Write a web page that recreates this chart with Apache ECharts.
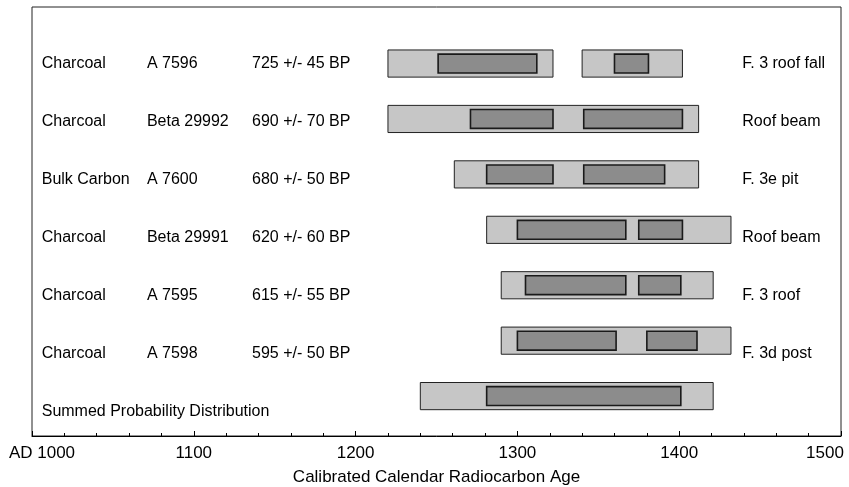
<!DOCTYPE html>
<html>
<head>
<meta charset="utf-8">
<script src="https://cdn.jsdelivr.net/npm/echarts@6/dist/echarts.min.js"></script>
<style>
html,body{margin:0;padding:0;background:#fff;}
#chart{width:849px;height:487px;}
</style>
</head>
<body>
<div id="chart"></div>
<script>
// ---- data ----
const materials = ['Charcoal','Charcoal','Bulk Carbon','Charcoal','Charcoal','Charcoal','Summed Probability Distribution'];
const labIds = ['A 7596','Beta 29992','A 7600','Beta 29991','A 7595','A 7598',''];
const ages = ['725 +/- 45 BP','690 +/- 70 BP','680 +/- 50 BP','620 +/- 60 BP','615 +/- 55 BP','595 +/- 50 BP',''];
const contexts = ['F. 3 roof fall','Roof beam','F. 3e pit','Roof beam','F. 3 roof','F. 3d post',''];
// [row, start, end] of 2-sigma ranges (light) and 1-sigma ranges (dark)
const outerRanges = [
  [0,1220,1322],[0,1340,1402],
  [1,1220,1412],
  [2,1261,1412],
  [3,1281,1432],
  [4,1290,1421],
  [5,1290,1432],
  [6,1240,1421]
];
const innerRanges = [
  [0,1251,1312],[0,1360,1381],
  [1,1271,1322],[1,1341,1402],
  [2,1281,1322],[2,1341,1391],
  [3,1300,1367],[3,1375,1402],
  [4,1305,1367],[4,1375,1401],
  [5,1300,1361],[5,1380,1411],
  [6,1281,1401]
];
const xTicks = {min:1000, max:1500, interval:100};

// ---- layout constants (not data) ----
const FONT = '"Liberation Sans", Arial, sans-serif';
const colYears = [1006, 1071, 1136, 1439]; // text column anchors on the x scale

const chart = echarts.init(document.getElementById('chart'));

function rangeRender(frac, fill, stroke, lw) {
  return function (params, api) {
    const row = api.value(0);
    const s = api.coord([api.value(1), row]);
    const e = api.coord([api.value(2), row]);
    const h = api.size([0, 1])[1] * frac;
    return {
      type: 'rect',
      shape: {x: s[0], y: s[1] - h / 2, width: e[0] - s[0], height: h},
      style: {fill: fill, stroke: stroke, lineWidth: lw}
    };
  };
}

const rows = materials.map((m, i) => [i]);

chart.setOption({
  animation: false,
  backgroundColor: '#fff',
  grid: {left: 32, right: 8, top: 7, bottom: 51, show: true, borderColor: '#222', borderWidth: 1,
         backgroundColor: 'transparent', containLabel: false, outerBoundsMode: 'none'},
  xAxis: {
    type: 'value', min: xTicks.min, max: xTicks.max, interval: xTicks.interval,
    name: 'Calibrated Calendar Radiocarbon Age', nameLocation: 'middle', nameGap: 33,
    nameTextStyle: {fontFamily: FONT, fontSize: 17, color: '#000'},
    axisLine: {show: true, onZero: false, lineStyle: {color: '#000', width: 1}},
    axisTick: {show: true, inside: true, length: 5, lineStyle: {color: '#000'}},
    minorTick: {show: true, splitNumber: 5, length: 3, lineStyle: {color: '#000'}},
    splitLine: {show: false},
    axisLabel: {
      fontFamily: FONT, fontSize: 17, color: '#000', margin: 9,
      formatter: function (v) {
        if (v === xTicks.min) return '{first|AD ' + v + '}';
        if (v === xTicks.max) return '{last|' + v + '}';
        return String(v);
      },
      rich: {
        first: {fontFamily: FONT, fontSize: 17, color: '#000', padding: [0, 0, 0, 20]},
        last: {fontFamily: FONT, fontSize: 17, color: '#000', padding: [0, 32, 0, 0]}
      }
    }
  },
  yAxis: [
    {type: 'value', inverse: true, min: -1.02, max: 6.72, show: false, splitLine: {show: false}, axisLine: {onZero: false}},
    {type: 'value', inverse: true, min: -0.983, max: 6.413, show: false, splitLine: {show: false}, axisLine: {onZero: false}}
  ],
  series: [
    {
      type: 'custom', name: 'outer', xAxisIndex: 0, yAxisIndex: 0,
      data: outerRanges, encode: {x: [1, 2], y: 0},
      renderItem: rangeRender(0.49, '#c6c6c6', '#222', 1)
    },
    {
      type: 'custom', name: 'inner', xAxisIndex: 0, yAxisIndex: 0,
      data: innerRanges, encode: {x: [1, 2], y: 0},
      renderItem: rangeRender(0.34, '#8c8c8c', '#1a1a1a', 1.6)
    },
    {
      type: 'custom', name: 'text', xAxisIndex: 0, yAxisIndex: 1,
      data: rows, encode: {y: 0},
      renderItem: function (params, api) {
        const i = api.value(0);
        const cols = [materials[i], labIds[i], ages[i], contexts[i]];
        const children = [];
        cols.forEach(function (t, c) {
          if (!t) return;
          const p = api.coord([colYears[c], i]);
          children.push({
            type: 'text',
            style: {text: t, x: p[0], y: p[1], fill: '#000', font: '16px ' + FONT, verticalAlign: 'middle', align: 'left'}
          });
        });
        return {type: 'group', children: children};
      }
    }
  ]
});
</script>
</body>
</html>
